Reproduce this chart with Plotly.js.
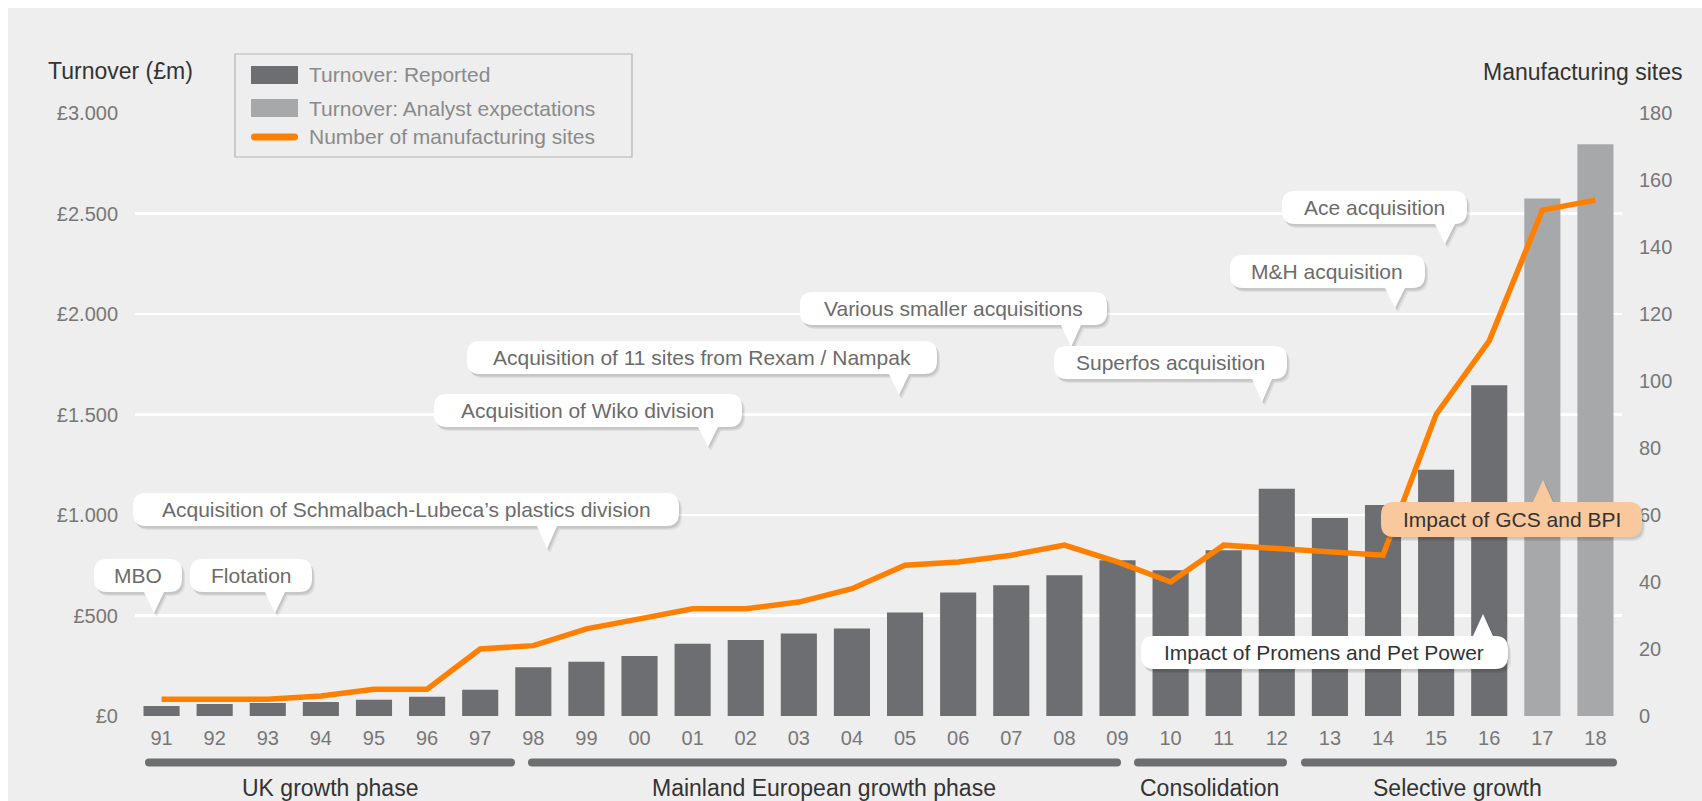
<!DOCTYPE html>
<html>
<head>
<meta charset="utf-8">
<script src="https://cdn.plot.ly/plotly-3.0.1.min.js"></script>
<style>html,body{margin:0;padding:0;background:#fff;}#chart{width:1702px;height:801px;}</style>
</head>
<body>
<div id="chart"></div>
<script>
// ---------- data ----------
const years = ['91','92','93','94','95','96','97','98','99','00','01','02','03','04','05','06','07','08','09','10','11','12','13','14','15','16','17','18'];
const reportedYears = ['91','92','93','94','95','96','97','98','99','00','01','02','03','04','05','06','07','08','09','10','11','12','13','14','15','16'];
const reportedTurnover = [50,60,65,70,81,96,130,242,270,298,360,378,410,435,515,615,650,700,775,725,825,1130,985,1050,1225,1645];
const expectedYears = ['17','18'];
const expectedTurnover = [2575,2845];
const manufacturingSites = [5,5,5,6,8,8,20,21,26,29,32,32,34,38,45,46,48,51,46,40,51,50,49,48,90,112,151,154];
const turnoverTickVals = [0,500,1000,1500,2000,2500,3000];
const turnoverTickText = ['£0','£500','£1.000','£1.500','£2.000','£2.500','£3.000'];
const legendLabels = ['Turnover: Reported','Turnover: Analyst expectations','Number of manufacturing sites'];
const phaseLabels = ['UK growth phase','Mainland European growth phase','Consolidation','Selective growth'];
const calloutTexts = ['MBO','Flotation','Acquisition of Schmalbach-Lubeca\u2019s plastics division','Acquisition of Wiko division','Acquisition of 11 sites from Rexam / Nampak','Various smaller acquisitions','Superfos acquisition','M&H acquisition','Ace acquisition','Impact of Promens and Pet Power','Impact of GCS and BPI'];

// ---------- geometry helpers (pixel -> paper) ----------
const W = 1702, H = 801, ML = 135, MR = 80, MT = 113, MB = 85;
const PW = W - ML - MR, PH = H - MT - MB;
const X = p => ((p - ML) / PW).toFixed(5);
const Y = p => ((H - MB - p) / PH).toFixed(5);
const FONT = '"Liberation Sans", Arial, sans-serif';
const C_DARK = '#6d6e71', C_LIGHT = '#a7a8aa', C_ORANGE = '#ff8000', C_BG = '#eeeeee';

function roundRect(x0, y0, x1, y1, r, ptr) {
  // ptr: {dir:'down'|'up', tx, ty, hw}
  let d = `M${X(x0 + r)},${Y(y0)}`;
  if (ptr && ptr.dir === 'up') {
    d += ` L${X(ptr.tx - ptr.hw)},${Y(y0)} L${X(ptr.tx)},${Y(ptr.ty)} L${X(ptr.tx + ptr.hw)},${Y(y0)}`;
  }
  d += ` L${X(x1 - r)},${Y(y0)} Q${X(x1)},${Y(y0)} ${X(x1)},${Y(y0 + r)}`;
  d += ` L${X(x1)},${Y(y1 - r)} Q${X(x1)},${Y(y1)} ${X(x1 - r)},${Y(y1)}`;
  if (ptr && ptr.dir === 'down') {
    d += ` L${X(ptr.tx + ptr.hw)},${Y(y1)} L${X(ptr.tx)},${Y(ptr.ty)} L${X(ptr.tx - ptr.hw)},${Y(y1)}`;
  }
  d += ` L${X(x0 + r)},${Y(y1)} Q${X(x0)},${Y(y1)} ${X(x0)},${Y(y1 - r)}`;
  d += ` L${X(x0)},${Y(y0 + r)} Q${X(x0)},${Y(y0)} ${X(x0 + r)},${Y(y0)} Z`;
  return d;
}

const shapes = [];
const annotations = [];

// grey panel
shapes.push({type:'rect', xref:'paper', yref:'paper', x0:X(8), x1:X(W), y0:Y(8), y1:Y(H), fillcolor:C_BG, line:{width:0}, layer:'below'});

// callouts (pixel boxes)
const callouts = [
  {b:[94,182,559,592], t:[154,613], dir:'down'},
  {b:[190,312,559,592], t:[275,613], dir:'down'},
  {b:[133,679,493,526], t:[547,549], dir:'down'},
  {b:[434,742,394,427], t:[708,447], dir:'down'},
  {b:[467,937,341,374], t:[899,395], dir:'down'},
  {b:[800,1107,292,325], t:[1071,347], dir:'down'},
  {b:[1054,1287,346,379], t:[1262,402], dir:'down'},
  {b:[1230,1425,255,288], t:[1395,308], dir:'down'},
  {b:[1282,1467,191,224], t:[1445,244], dir:'down'},
  {b:[1141,1508,636,669], t:[1483,614], dir:'up', fg:'#333333'},
  {b:[1381,1642,502,537], t:[1543,480], dir:'up', fill:'#f9c89d', fg:'#333333'}
];
callouts.forEach((c, i) => {
  const [x0, x1, y0, y1] = c.b;
  const ptr = {dir:c.dir, tx:c.t[0], ty:c.t[1], hw:10};
  const r = 13;
  // shadow layers
  shapes.push({type:'path', xref:'paper', yref:'paper', path:roundRect(x0+3, y0+4, x1+3, y1+4, r, {dir:c.dir, tx:c.t[0]+3, ty:c.t[1]+4, hw:10}), fillcolor:'rgba(0,0,0,0.07)', line:{width:0}});
  shapes.push({type:'path', xref:'paper', yref:'paper', path:roundRect(x0+1.5, y0+2.5, x1+1.5, y1+2.5, r, {dir:c.dir, tx:c.t[0]+1.5, ty:c.t[1]+2.5, hw:10}), fillcolor:'rgba(0,0,0,0.10)', line:{width:0}});
  shapes.push({type:'path', xref:'paper', yref:'paper', path:roundRect(x0, y0, x1, y1, r, ptr), fillcolor:c.fill || '#ffffff', line:{width:0}});
  annotations.push({xref:'paper', yref:'paper', x:X((x0 + x1) / 2), y:Y((y0 + y1) / 2), xanchor:'center', yanchor:'middle', showarrow:false, text:calloutTexts[i], font:{family:FONT, size:21, color:c.fg || '#6b6b6b'}});
});

// phase bars below the axis
const phaseSpans = [[145,515],[528,1121],[1134,1287],[1301,1617]];
const phaseCenters = [330,824,1210,1458];
phaseSpans.forEach((s, i) => {
  shapes.push({type:'path', xref:'paper', yref:'paper', path:roundRect(s[0], 758.5, s[1], 766.5, 4), fillcolor:C_DARK, line:{width:0}});
  annotations.push({xref:'paper', yref:'paper', x:X(phaseCenters[i]), y:Y(788), xanchor:'center', yanchor:'middle', showarrow:false, text:phaseLabels[i], font:{family:FONT, size:23, color:'#333333'}});
});

// custom legend
shapes.push({type:'rect', xref:'paper', yref:'paper', x0:X(235), x1:X(632), y0:Y(54), y1:Y(157), fillcolor:'rgba(0,0,0,0)', line:{color:'#b4b4b4', width:1.2}});
shapes.push({type:'rect', xref:'paper', yref:'paper', x0:X(251), x1:X(298), y0:Y(66), y1:Y(84), fillcolor:C_DARK, line:{width:0}});
shapes.push({type:'rect', xref:'paper', yref:'paper', x0:X(251), x1:X(298), y0:Y(99), y1:Y(117), fillcolor:C_LIGHT, line:{width:0}});
shapes.push({type:'path', xref:'paper', yref:'paper', path:roundRect(251, 133.5, 298, 140.5, 3.5), fillcolor:C_ORANGE, line:{width:0}});
[75, 108, 137].forEach((yy, i) => {
  annotations.push({xref:'paper', yref:'paper', x:X(307), y:Y(yy), xanchor:'left', yanchor:'middle', showarrow:false, text:legendLabels[i], font:{family:FONT, size:21, color:'#8a8a8a'}});
});

// axis titles
annotations.push({xref:'paper', yref:'paper', x:X(46), y:Y(71), xanchor:'left', yanchor:'middle', showarrow:false, text:'Turnover (£m)', font:{family:FONT, size:23, color:'#333333'}});
annotations.push({xref:'paper', yref:'paper', x:X(1684), y:Y(72), xanchor:'right', yanchor:'middle', showarrow:false, text:'Manufacturing sites', font:{family:FONT, size:23, color:'#333333'}});

// ---------- traces ----------
const traces = [
  {type:'bar', name:legendLabels[0], x:reportedYears, y:reportedTurnover, marker:{color:C_DARK}, hoverinfo:'x+y'},
  {type:'bar', name:legendLabels[1], x:expectedYears, y:expectedTurnover, marker:{color:C_LIGHT}, hoverinfo:'x+y'},
  {type:'scatter', mode:'lines', name:legendLabels[2], x:years, y:manufacturingSites, yaxis:'y2', line:{color:C_ORANGE, width:5.5}, hoverinfo:'x+y'}
];

const layout = {
  width: W, height: H,
  margin: {l:ML, r:MR, t:MT, b:MB, pad:0},
  paper_bgcolor: '#ffffff',
  plot_bgcolor: 'rgba(0,0,0,0)',
  showlegend: false,
  barmode: 'overlay',
  bargap: 0.32,
  font: {family: FONT, size: 20, color: '#777777'},
  xaxis: {
    type:'category', categoryorder:'array', categoryarray:years,
    range:[-0.5, years.length - 0.5],
    showgrid:false, zeroline:false, showline:false, ticks:'',
    tickfont:{family:FONT, size:20, color:'#777777'}, ticklabelstandoff:8
  },
  yaxis: {
    range:[0,3000], tickvals:turnoverTickVals, ticktext:turnoverTickText,
    showgrid:true, gridcolor:'#ffffff', gridwidth:2.5, zeroline:false, showline:false, ticks:'',
    tickfont:{family:FONT, size:20, color:'#777777'}, ticklabelstandoff:16
  },
  yaxis2: {
    overlaying:'y', side:'right', range:[0,180], dtick:20, tick0:0,
    showgrid:false, zeroline:false, showline:false, ticks:'',
    tickfont:{family:FONT, size:20, color:'#777777'}, ticklabelstandoff:16
  },
  shapes: shapes,
  annotations: annotations
};

Plotly.newPlot('chart', traces, layout, {displayModeBar:false, staticPlot:true});
</script>
</body>
</html>
